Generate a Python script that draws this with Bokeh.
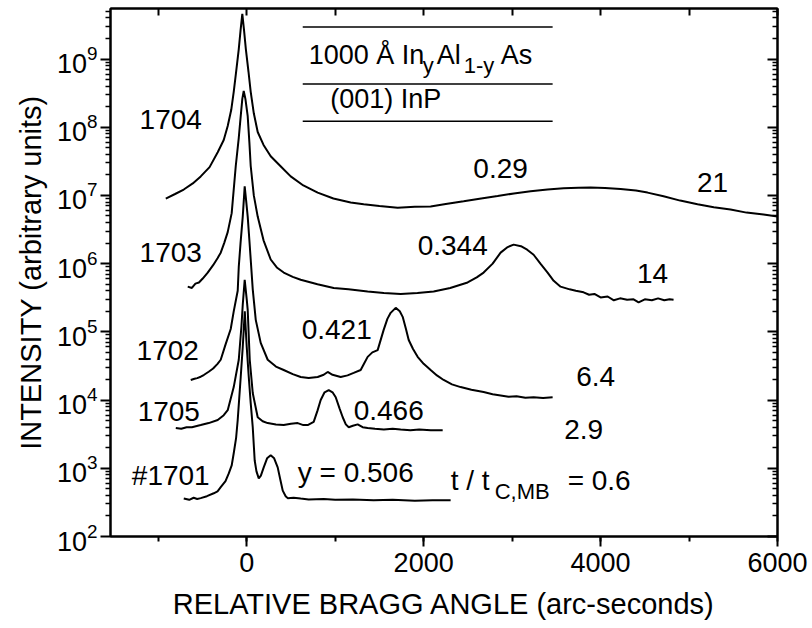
from bokeh.plotting import figure
from bokeh.models import Range1d, LinearAxis, LogAxis, SingleIntervalTicker, FixedTicker, Label
from bokeh.embed import file_html
from bokeh.resources import INLINE

# ---------------- data ----------------
x_1704 = [-915, -810, -712, -610, -520, -420, -328, -260, -215, -175, -147, -120, -90, -70, -50, -30, -10,
          20, 45, 80, 124, 190, 271, 380, 497, 640, 802, 980, 1175, 1322, 1500, 1706, 1900, 2079, 2250,
          2452, 2650, 2836, 3020, 3209, 3400, 3582, 3750, 3887, 4050, 4226, 4400, 4531, 4712, 4900,
          5096, 5280, 5469, 5650, 5842, 6000]
i_1704 = [9.0e6, 1.05e7, 1.22e7, 1.5e7, 1.9e7, 2.6e7, 4.3e7, 6.5e7, 1.04e8, 1.8e8, 3.3e8, 6.5e8, 1.4e9, 2.6e9,
          4.6e9, 2.6e9, 1.4e9, 6.5e8, 3.3e8, 1.6e8, 8.5e7, 5.5e7, 3.75e7, 2.7e7, 1.9e7, 1.4e7, 1.1e7, 9.0e6,
          7.9e6, 7.4e6, 7.0e6, 6.6e6, 6.8e6, 6.9e6, 7.5e6, 8.2e6, 9.0e6, 9.8e6, 1.07e7, 1.15e7, 1.22e7, 1.27e7,
          1.3e7, 1.31e7, 1.29e7, 1.24e7, 1.18e7, 1.1e7, 9.7e6, 8.4e6, 7.4e6, 6.7e6, 6.2e6, 5.6e6, 5.25e6, 4.9e6]

x_1703 = [-667, -620, -580, -540, -500, -441, -380, -330, -294, -255, -215, -170, -124, -90, -68, -50, -34,
          -15, 11, 30, 45, 80, 124, 190, 271, 340, 418, 520, 610, 800, 983, 1150, 1367, 1550, 1740, 1930,
          2113, 2300, 2497, 2600, 2678, 2780, 2870, 2950, 3017, 3100, 3170, 3243, 3320, 3401, 3470, 3548,
          3650, 3720, 3808, 3870, 3930, 4000, 4080, 4150, 4220, 4300, 4373, 4430, 4500, 4580, 4650, 4720,
          4780, 4825]
i_1703 = [4.6e5, 4.4e5, 5.1e5, 5.3e5, 6.0e5, 7.4e5, 9.5e5, 1.2e6, 1.45e6, 2.0e6, 2.9e6, 5.5e6, 2.7e7, 7.0e7,
          1.45e8, 2.6e8, 3.4e8, 2.6e8, 1.45e8, 6.0e7, 2.7e7, 1.0e7, 4.9e6, 2.2e6, 1.15e6, 8.8e5, 7.4e5, 6.4e5,
          5.8e5, 5.0e5, 4.4e5, 4.2e5, 3.9e5, 3.7e5, 3.6e5, 3.7e5, 3.9e5, 4.4e5, 5.3e5, 6.3e5, 7.4e5, 1.0e6,
          1.45e6, 1.75e6, 1.9e6, 1.8e6, 1.6e6, 1.35e6, 1.0e6, 7.4e5, 5.6e5, 4.6e5, 4.2e5, 4.0e5, 3.8e5, 3.5e5,
          3.6e5, 3.2e5, 3.3e5, 2.9e5, 3.1e5, 2.95e5, 3.0e5, 2.7e5, 3.0e5, 2.9e5, 3.1e5, 2.9e5, 3.0e5, 2.95e5]

x_1702 = [-633, -590, -560, -520, -486, -430, -380, -330, -294, -240, -181, -147, -102, -90, -70, -45, -23,
          -5, 11, 30, 45, 68, 102, 158, 237, 330, 418, 520, 610, 700, 802, 870, 915, 970, 1062, 1140, 1209,
          1288, 1330, 1367, 1420, 1480, 1548, 1590, 1627, 1684, 1730, 1763, 1800, 1831, 1880, 1932, 2000,
          2079, 2150, 2226, 2320, 2418, 2540, 2678, 2780, 2870, 2960, 3050, 3150, 3243, 3350, 3458]
i_1702 = [1.97e4, 2.05e4, 2.1e4, 2.2e4, 2.33e4, 2.6e4, 2.9e4, 3.4e4, 3.9e4, 6.5e4, 1.1e5, 2.0e5, 4.0e5, 9.0e5,
          2.0e6, 4.9e6, 1.36e7, 8.0e6, 4.9e6, 2.2e6, 1.15e6, 4.2e5, 1.5e5, 6.9e4, 3.9e4, 3.1e4, 2.76e4, 2.4e4,
          2.18e4, 2.1e4, 2.18e4, 2.35e4, 2.58e4, 2.35e4, 2.18e4, 2.3e4, 2.5e4, 2.76e4, 3.5e4, 4.3e4, 5.0e4,
          5.4e4, 1.07e5, 1.55e5, 1.9e5, 2.25e5, 2.0e5, 1.66e5, 1.1e5, 7.6e4, 5.6e4, 4.3e4, 3.4e4, 2.76e4, 2.3e4,
          1.97e4, 1.7e4, 1.55e4, 1.42e4, 1.31e4, 1.22e4, 1.17e4, 1.12e4, 1.14e4, 1.08e4, 1.1e4, 1.07e4, 1.1e4]

x_1705 = [-802, -740, -680, -620, -520, -430, -328, -260, -215, -147, -90, -60, -45, -23, 0, 11, 34, 68, 124,
          180, 237, 330, 418, 500, 576, 640, 689, 757, 800, 836, 880, 927, 970, 1006, 1050, 1085, 1120, 1153,
          1200, 1254, 1310, 1367, 1450, 1550, 1650, 1740, 1850, 1950, 2080, 2215]
i_1705 = [3.9e3, 3.8e3, 4.0e3, 4.0e3, 4.3e3, 4.6e3, 5.1e3, 6.0e3, 7.1e3, 1.55e4, 3.9e4, 1.2e5, 2.5e5, 5.8e5,
          3.0e5, 2.1e5, 3.9e4, 1.27e4, 5.6e3, 4.9e3, 4.6e3, 4.4e3, 4.3e3, 4.5e3, 4.6e3, 4.3e3, 4.3e3, 4.8e3,
          7.0e3, 1.0e4, 1.3e4, 1.4e4, 1.3e4, 1.1e4, 7.5e3, 5.6e3, 4.4e3, 4.0e3, 4.2e3, 4.4e3, 4.0e3, 3.9e3,
          3.8e3, 3.7e3, 3.8e3, 3.7e3, 3.6e3, 3.7e3, 3.6e3, 3.6e3]

x_1701 = [-712, -650, -600, -560, -520, -450, -373, -330, -294, -240, -203, -170, -147, -120, -102, -68, -45,
          -22, 0, 23, 45, 68, 90, 110, 136, 160, 192, 230, 271, 310, 350, 380, 407, 440, 463, 530, 610, 700,
          870, 1000, 1200, 1435, 1650, 1900, 2100, 2305]
i_1701 = [3.6e2, 3.45e2, 3.7e2, 3.55e2, 3.65e2, 3.9e2, 4.3e2, 4.6e2, 5.3e2, 6.5e2, 8.4e2, 1.1e3, 1.66e3, 2.8e3,
          5.1e3, 2.18e4, 6.0e4, 2.0e5, 6.0e4, 2.18e4, 9.0e3, 4.0e3, 1.3e3, 9.0e2, 7.1e2, 7.8e2, 1.03e3, 1.4e3,
          1.55e3, 1.4e3, 1.03e3, 6.8e2, 4.7e2, 3.9e2, 3.65e2, 3.7e2, 3.6e2, 3.5e2, 3.55e2, 3.45e2, 3.5e2,
          3.4e2, 3.45e2, 3.35e2, 3.4e2, 3.4e2]

# sample names, with label positions (data units)
sample_names = ["1704", "1703", "1702", "1705", "#1701"]
sample_label_x = [-859, -859, -893, -881, -859]
sample_label_y = [1.31e8, 1.45e6, 5.4e4, 6.7e3, 7.9e2]

# composition y labels
comp_text = ["0.29", "0.344", "0.421", "0.466", "y = 0.506"]
comp_x = [2870, 2328, 1017, 1605, 1232]
comp_y = [2.5e7, 1.84e6, 1.07e5, 7.1e3, 8.7e2]

# thickness ratio labels
ratio_text = ["21", "14", "6.4", "2.9"]
ratio_x = [5266, 4588, 3944, 3808]
ratio_y = [1.55e7, 7.1e5, 2.18e4, 3.75e3]

# inset (layer sketch)
inset_x = [633, 3458]
inset_levels = [2.95e9, 4.3e8, 1.22e8]

x_ticks_major = 2000
decades = [1e2, 1e3, 1e4, 1e5, 1e6, 1e7, 1e8, 1e9]

FONT = "Liberation Sans"
NUM = "28px"
SUB = "22px"

p = figure(width=812, height=628, y_axis_type="log",
           x_range=Range1d(-1540, 6000), y_range=Range1d(1e2, 5.5e9),
           output_backend="svg", toolbar_location=None,
           min_border_left=110, min_border_right=35, min_border_top=8, min_border_bottom=92)
p.grid.visible = False
p.outline_line_color = "black"
p.outline_line_width = 2
p.background_fill_color = "white"
p.border_fill_color = "white"

minor = [m * d for d in decades for m in range(2, 10)]

# bottom axis
xa = p.xaxis[0]
xa.ticker = SingleIntervalTicker(interval=x_ticks_major, num_minor_ticks=2)
xa.axis_label = "RELATIVE BRAGG ANGLE (arc-seconds)"
xa.axis_label_text_font = FONT
xa.axis_label_text_font_size = "29px"
xa.axis_label_text_font_style = "normal"
xa.axis_label_text_color = "black"
xa.axis_label_standoff = 13
xa.major_label_text_font = FONT
xa.major_label_text_font_size = "27px"
xa.major_label_text_color = "black"
xa.major_label_standoff = 6
xa.axis_line_width = 2
xa.major_tick_in = 0
xa.major_tick_out = 10
xa.minor_tick_in = 0
xa.minor_tick_out = 5
xa.major_tick_line_width = 2
xa.minor_tick_line_width = 2

# left axis
ya = p.yaxis[0]
ya.ticker = FixedTicker(ticks=decades, minor_ticks=minor)
ya.axis_label = "INTENSITY (arbitrary units)"
ya.axis_label_text_font = FONT
ya.axis_label_text_font_size = "29px"
ya.axis_label_text_font_style = "normal"
ya.axis_label_text_color = "black"
ya.axis_label_standoff = 7
ya.major_label_text_font = FONT
ya.major_label_text_font_size = "27px"
ya.major_label_text_color = "black"
ya.major_label_standoff = 3
ya.axis_line_width = 2
ya.major_tick_in = 0
ya.major_tick_out = 10
ya.minor_tick_in = 0
ya.minor_tick_out = 5
ya.major_tick_line_width = 2
ya.minor_tick_line_width = 1.5

# top axis (ticks only, labels invisible)
top = LinearAxis(ticker=SingleIntervalTicker(interval=1000, num_minor_ticks=0),
                 major_label_text_font_size="2px", major_label_text_color=None, major_label_standoff=0,
                 major_tick_in=7, major_tick_out=0, minor_tick_in=0, minor_tick_out=0,
                 axis_line_width=2, major_tick_line_width=2)
p.add_layout(top, "above")

# right axis (ticks only, labels invisible)
right = LogAxis(ticker=FixedTicker(ticks=decades, minor_ticks=minor),
                major_label_text_font_size="2px", major_label_text_color=None, major_label_standoff=0,
                major_tick_in=10, major_tick_out=0, minor_tick_in=5, minor_tick_out=0,
                axis_line_width=2, major_tick_line_width=2, minor_tick_line_width=1.5)
p.add_layout(right, "right")

# curves
for xs, ys in [(x_1704, i_1704), (x_1703, i_1703), (x_1702, i_1702), (x_1705, i_1705), (x_1701, i_1701)]:
    p.line(xs, ys, line_color="black", line_width=2)

# inset lines
for lev in inset_levels:
    p.line(inset_x, [lev, lev], line_color="black", line_width=1.5)


def lab(x, y, text, size=NUM, align="center", baseline="middle", xo=0, yo=0):
    p.add_layout(Label(x=x, y=y, text=text, text_font=FONT, text_font_size=size,
                       text_align=align, text_baseline=baseline, text_color="black",
                       x_offset=xo, y_offset=yo))


for t, x, y in zip(sample_names, sample_label_x, sample_label_y):
    lab(x, y, t)
for t, x, y in zip(comp_text, comp_x, comp_y):
    lab(x, y, t)
for t, x, y in zip(ratio_text, ratio_x, ratio_y):
    lab(x, y, t)

# t / t_C,MB = 0.6
tx, ty = 2305, 6.7e2
lab(tx, ty, "t / t", align="left", baseline="alphabetic")
lab(tx, ty, "C,MB", size=SUB, align="left", baseline="alphabetic", xo=44, yo=-11)
lab(tx, ty, "= 0.6", align="left", baseline="alphabetic", xo=117)

# inset texts
ix, iy = 700, 1.15e9
lab(ix, iy, "1000 Å In", size="27px", align="left", baseline="alphabetic")
lab(ix, iy, "y", size=SUB, align="left", baseline="alphabetic", xo=114, yo=-11)
lab(ix, iy, "Al", size="27px", align="left", baseline="alphabetic", xo=128)
lab(ix, iy, "1-y", size=SUB, align="left", baseline="alphabetic", xo=155, yo=-11)
lab(ix, iy, "As", size="27px", align="left", baseline="alphabetic", xo=192)
lab(1571, 2.58e8, "(001) InP", size="27px")

open("out.html", "w").write(file_html(p, INLINE))
